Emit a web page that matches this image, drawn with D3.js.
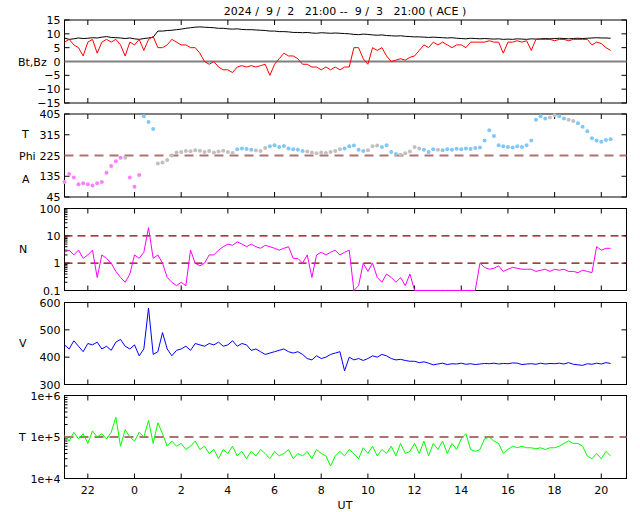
<!DOCTYPE html>
<html><head><meta charset="utf-8">
<script src="https://cdn.jsdelivr.net/npm/d3@7"></script>
<style>body{margin:0;background:#fff}svg{font-family:"DejaVu Sans",sans-serif}</style>
</head><body><svg id="c" width="640" height="512"></svg>
<script>
// time step 0.2 h from 21:00 UT (index i -> t = 0.2*i hours)
const STEP = 0.2;
const hourTicks = [1,3,5,7,9,11,13,15,17,19,21,23];
const hourLabels = ["22","0","2","4","6","8","10","12","14","16","18","20"];
const bz = [7,8,6,5,2,7,8,3,7,8,7,8,6,2,7,6,8,4,8,9,5,5,6,8,7,6,6,5,5,3,0,-1,0,-2,-3,-3,-4,-2,-1.5,-2,-1.5,-2,-1.5,-1,-5,-1,1,3,2,2,1,-1,-1,-2,-2,-3,-2,-3,-2,-3,-2,-2,5,5,1,-1,5,4,5,2,0,0.5,1,0.5,1.5,2,4,6,5,7,6,7,6,5,6,6,5,7,7,7,7,7.5,7,7,3,7,7,7.5,7,7.5,4,8,8,8,8,7.5,8,8,7.5,8,8,8,8,6,7,6.5,5,4];
const bt = [8.5,8,8.2,8.5,8.3,8.4,8.6,8.5,8.8,9,8.7,8.6,8.5,8.3,8.5,8.2,8,8.3,8.5,8.8,11,11,11.2,11.3,11.5,11.7,12,12.2,12.4,12.5,12.4,12.3,12.2,12,12,11.8,11.7,11.8,11.6,11.5,11.5,11.4,11.3,11.2,11,11,10.8,10.8,10.7,10.5,10.5,10.4,10.5,10.3,10.2,10.4,10.3,10.2,10.3,10.2,10.1,10,9.8,9.7,9.9,9.8,9.6,9.5,9.6,9.4,9.3,9.2,9.3,9.1,9,8.9,8.9,8.8,8.7,8.8,8.7,8.6,8.5,8.6,8.4,8.3,8.2,8.4,8.3,8.2,8.3,8.2,8.1,8.2,8,8.1,8,8.2,8.1,8,8.2,8.1,8.2,8.3,8.2,8.3,8.4,8.3,8.2,8.3,8.4,8.3,8.4,8.5,8.6,8.5,8.5,8.4];
const phi = [110,145,130,100,105,100,95,105,110,150,180,200,215,215,130,90,140,395,370,340,190,195,205,225,238,240,245,243,248,246,240,244,238,242,246,240,236,252,255,253,250,247,245,258,265,270,262,266,255,252,250,245,242,238,235,238,236,240,245,252,255,265,268,250,245,248,265,268,262,270,240,232,228,235,242,262,255,250,240,252,250,248,252,250,254,252,255,253,258,260,290,335,310,270,265,262,260,265,262,270,290,380,395,385,390,400,395,385,380,375,365,350,330,300,290,285,292,295];
const phiClass = "pppppppppppppgpppbbbgggggggggggggggggbbbbgggbbbbbbbbggggggggbbbbbgggbbbbgggggbbbgbbbbbbbbbbbbbbbbbbbbbbbggbbggbbbbbbbbbbbb";
const dens = [2.5,3,2,3,1.5,2,3,0.3,2,1.5,1,0.5,0.3,0.2,0.4,2,1.5,2.5,20,1.5,2,1,0.3,0.2,0.15,0.2,0.15,3,1,0.8,1,2,2,3,4,5,4.5,6,5,4,5,4,3.5,4.5,4,3.5,3,3.5,4,1.5,1.5,1,2,0.3,2,2.5,2,2.5,3,2,2.5,3,0.1,0.15,1,0.5,1,0.3,0.2,0.4,0.3,0.2,0.3,0.15,0.4,0.1,0.1,0.1,0.1,0.1,0.1,0.1,0.1,0.1,0.1,0.1,0.1,0.1,0.1,1,0.7,0.6,0.65,0.8,0.5,0.6,0.7,0.65,0.6,0.6,0.6,0.5,0.55,0.6,0.5,0.6,0.55,0.6,0.5,0.5,0.45,0.55,0.5,0.45,4,3,3.5,3.5];
const vel = [445,430,460,440,420,450,445,455,430,440,425,455,465,440,430,445,405,430,580,410,420,490,430,405,425,430,440,425,450,445,440,450,445,455,440,445,460,440,450,445,425,430,420,410,415,420,425,430,420,415,420,410,395,390,405,395,400,410,415,420,350,400,390,395,388,395,405,400,410,405,395,390,392,388,385,385,380,383,378,372,375,378,373,376,375,378,374,376,373,375,377,376,378,375,377,376,379,378,373,375,376,374,378,375,377,376,378,375,380,374,372,370,376,374,378,375,380,377];
const temp = [1.1e5,8e4,1.3e5,9e4,1.2e5,7e4,1.4e5,1e5,1.2e5,9e4,1.3e5,3e5,6e4,1.5e5,1e5,8e4,1.3e5,1e5,2.5e5,7e4,2.2e5,1.2e5,6e4,8e4,6e4,7e4,5e4,6e4,8e4,5e4,6e4,4e4,5e4,3e4,5e4,4e4,6e4,3.5e4,4.5e4,3e4,4.5e4,3.5e4,5e4,4e4,3e4,4.5e4,3.5e4,4e4,5e4,3e4,4e4,3.5e4,4.5e4,3e4,5e4,4e4,3.5e4,2e4,3.5e4,4.5e4,3.5e4,5e4,4e4,3e4,5.5e4,4e4,6e4,3.5e4,5e4,4e4,6e4,3.5e4,7e4,4e4,4.5e4,7e4,4e4,8e4,3.5e4,7e4,5e4,8e4,4e4,7e4,5e4,9e4,1.2e5,5e4,4.5e4,5e4,9e4,1e5,8e4,7e4,4e4,5e4,6e4,5.5e4,6e4,5.5e4,5.5e4,5.2e4,5.5e4,5e4,5.5e4,5.5e4,6e4,7e4,8e4,7e4,7e4,6e4,3.5e4,3e4,4e4,3e4,4.5e4,3.5e4];

const svg = d3.select("#c");
const L = 64.5, R = 626.5;
const x = d3.scaleLinear().domain([0, 24.08]).range([L, R]);
const panels = [
  {top:20,bot:103},{top:114,bot:197},{top:208.5,bot:290.5},{top:302.5,bot:384.5},{top:395.5,bot:478.5}
];
svg.append("text").attr("x",345).attr("y",15).attr("text-anchor","middle").attr("font-size",11)
  .attr("xml:space","preserve").text("2024 /  9 /  2   21:00 --  9 /  3   21:00 ( ACE )");

function frame(p, y, ticks, labels, minor){
  const g = svg.append("g");
  g.append("rect").attr("x",L).attr("y",p.top).attr("width",R-L).attr("height",p.bot-p.top)
    .attr("fill","none").attr("stroke","#000").attr("stroke-width",1);
  hourTicks.forEach(h=>{
    g.append("line").attr("x1",x(h)).attr("x2",x(h)).attr("y1",p.top).attr("y2",p.top+5).attr("stroke","#000");
    g.append("line").attr("x1",x(h)).attr("x2",x(h)).attr("y1",p.bot).attr("y2",p.bot-5).attr("stroke","#000");
  });
  ticks.forEach((v,i)=>{
    g.append("line").attr("x1",L).attr("x2",L+5).attr("y1",y(v)).attr("y2",y(v)).attr("stroke","#000");
    g.append("line").attr("x1",R).attr("x2",R-5).attr("y1",y(v)).attr("y2",y(v)).attr("stroke","#000");
    g.append("text").attr("x",L-4).attr("y",y(v)+4).attr("text-anchor","end").attr("font-size",11).text(labels[i]);
  });
  (minor||[]).forEach(v=>{
    g.append("line").attr("x1",L).attr("x2",L+3).attr("y1",y(v)).attr("y2",y(v)).attr("stroke","#000");
  });
}
function label(txt, xx, yy){ svg.append("text").attr("x",xx).attr("y",yy).attr("font-size",11).text(txt); }
function hline(y, v, color, dash, w){
  svg.append("line").attr("x1",L).attr("x2",R).attr("y1",y(v)).attr("y2",y(v))
    .attr("stroke",color).attr("stroke-width",w).attr("stroke-dasharray",dash);
}
const tOf = i => i*STEP;
function path(data, y, color, w){
  const line = d3.line().defined(d=>d!=null).x((d,i)=>x(tOf(i))).y(d=>y(d));
  svg.append("path").attr("d",line(data)).attr("fill","none").attr("stroke",color).attr("stroke-width",w||1);
}

// Panel 1
let p = panels[0];
const y1 = d3.scaleLinear().domain([-15,15]).range([p.bot,p.top]);
frame(p,y1,[15,10,5,0,-5,-10,-15],["15","10","5","0","\u22125","\u221210","\u221215"]);
hline(y1,0,"#808080","none",2);
path(bt,y1,"#000");
path(bz,y1,"#ff0000");
label("Bt,Bz",18,66);

// Panel 2
p = panels[1];
const y2 = d3.scaleLinear().domain([45,405]).range([p.bot,p.top]);
frame(p,y2,[405,315,225,135,45],["405","315","225","135","45"]);
hline(y2,225,"#b07070","9,6",2);
const cmap = {p:"#ff80ff", g:"#c0c0c0", b:"#80c8f8"};
svg.append("g").selectAll("circle").data(phi).join("circle")
  .attr("cx",(d,i)=>x(tOf(i))).attr("cy",d=>y2(d)).attr("r",2)
  .attr("fill",(d,i)=>cmap[phiClass[i]]);
label("T",22,138); label("Phi",19,160); label("A",22,183);

// Panel 3
p = panels[2];
const y3 = d3.scaleLog().domain([0.1,100]).range([p.bot,p.top]);
const minor3=[]; [0.1,1,10].forEach(b=>{for(let k=2;k<10;k++)minor3.push(b*k);});
frame(p,y3,[100,10,1,0.1],["100","10","1","0.1"],minor3);
hline(y3,10,"#800000","8,5",1.2); hline(y3,1,"#800000","8,5",1.2);
path(dens,y3,"#ff00ff");
label("N",19,253);

// Panel 4
p = panels[3];
const y4 = d3.scaleLinear().domain([300,600]).range([p.bot,p.top]);
frame(p,y4,[600,500,400,300],["600","500","400","300"]);
path(vel,y4,"#0000ff");
label("V",19,347);

// Panel 5
p = panels[4];
const y5 = d3.scaleLog().domain([1e4,1e6]).range([p.bot,p.top]);
const minor5=[]; [1e4,1e5].forEach(b=>{for(let k=2;k<10;k++)minor5.push(b*k);});
frame(p,y5,[1e6,1e5,1e4],["1e+6","1e+5","1e+4"],minor5);
hline(y5,1e5,"#b07070","9,6",2);
path(temp,y5,"#00ff00");
label("T",19,441);

hourTicks.forEach((h,i)=>{
  svg.append("text").attr("x",x(h)).attr("y",494).attr("text-anchor","middle").attr("font-size",11).text(hourLabels[i]);
});
svg.append("text").attr("x",345).attr("y",509).attr("text-anchor","middle").attr("font-size",11).text("UT");
</script></body></html>
